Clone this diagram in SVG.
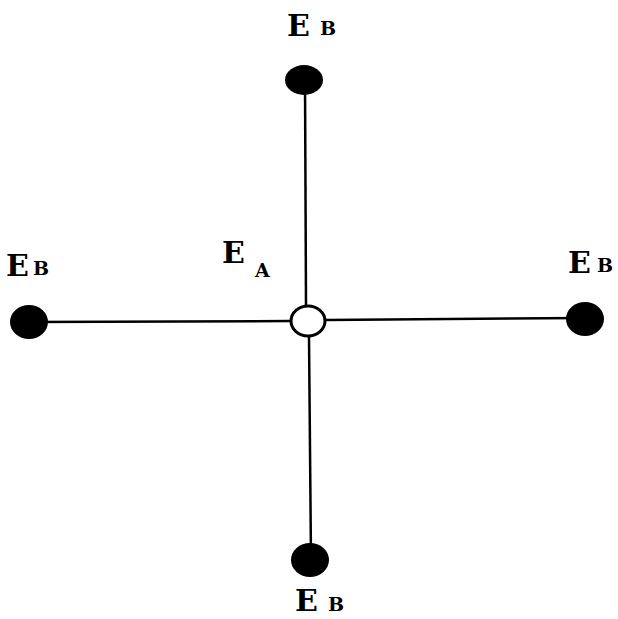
<svg xmlns="http://www.w3.org/2000/svg" width="618" height="619" viewBox="0 0 618 619">
<style>
.big{font-family:"DejaVu Serif","Liberation Serif",serif;font-weight:bold;font-size:30px;fill:#000}
.sub{font-family:"DejaVu Serif","Liberation Serif",serif;font-weight:bold;font-size:19px;fill:#000}
.ln{stroke:#000;stroke-width:2.5;fill:none}
.dot{fill:#000}
</style>
<rect width="618" height="619" fill="#fff"/>
<g id="connectors">
<line class="ln" x1="305" y1="80" x2="306" y2="305"/>
<line class="ln" x1="309" y1="337" x2="311" y2="560"/>
<line class="ln" x1="29" y1="322" x2="290" y2="321"/>
<line class="ln" x1="326" y1="320" x2="585" y2="318"/>
</g>
<g id="node-top">
<ellipse class="dot" cx="304" cy="80" rx="19" ry="15"/>
<text class="big" x="287" y="36">E</text><text class="sub" x="320" y="35">B</text>
</g>
<g id="node-left">
<ellipse class="dot" cx="29" cy="322" rx="19" ry="17"/>
<text class="big" x="6" y="276">E</text><text class="sub" x="33" y="275">B</text>
</g>
<g id="node-right">
<ellipse class="dot" cx="585" cy="319" rx="19" ry="17"/>
<text class="big" x="568" y="273">E</text><text class="sub" x="597" y="272">B</text>
</g>
<g id="node-bottom">
<ellipse class="dot" cx="310" cy="560" rx="19" ry="17"/>
<text class="big" x="295" y="611">E</text><text class="sub" x="328" y="611">B</text>
</g>
<g id="node-center">
<ellipse cx="308" cy="321" rx="17" ry="15" fill="#fff" stroke="#000" stroke-width="3"/>
<text class="big" x="222" y="263">E</text><text class="sub" x="255" y="277">A</text>
</g>
</svg>
